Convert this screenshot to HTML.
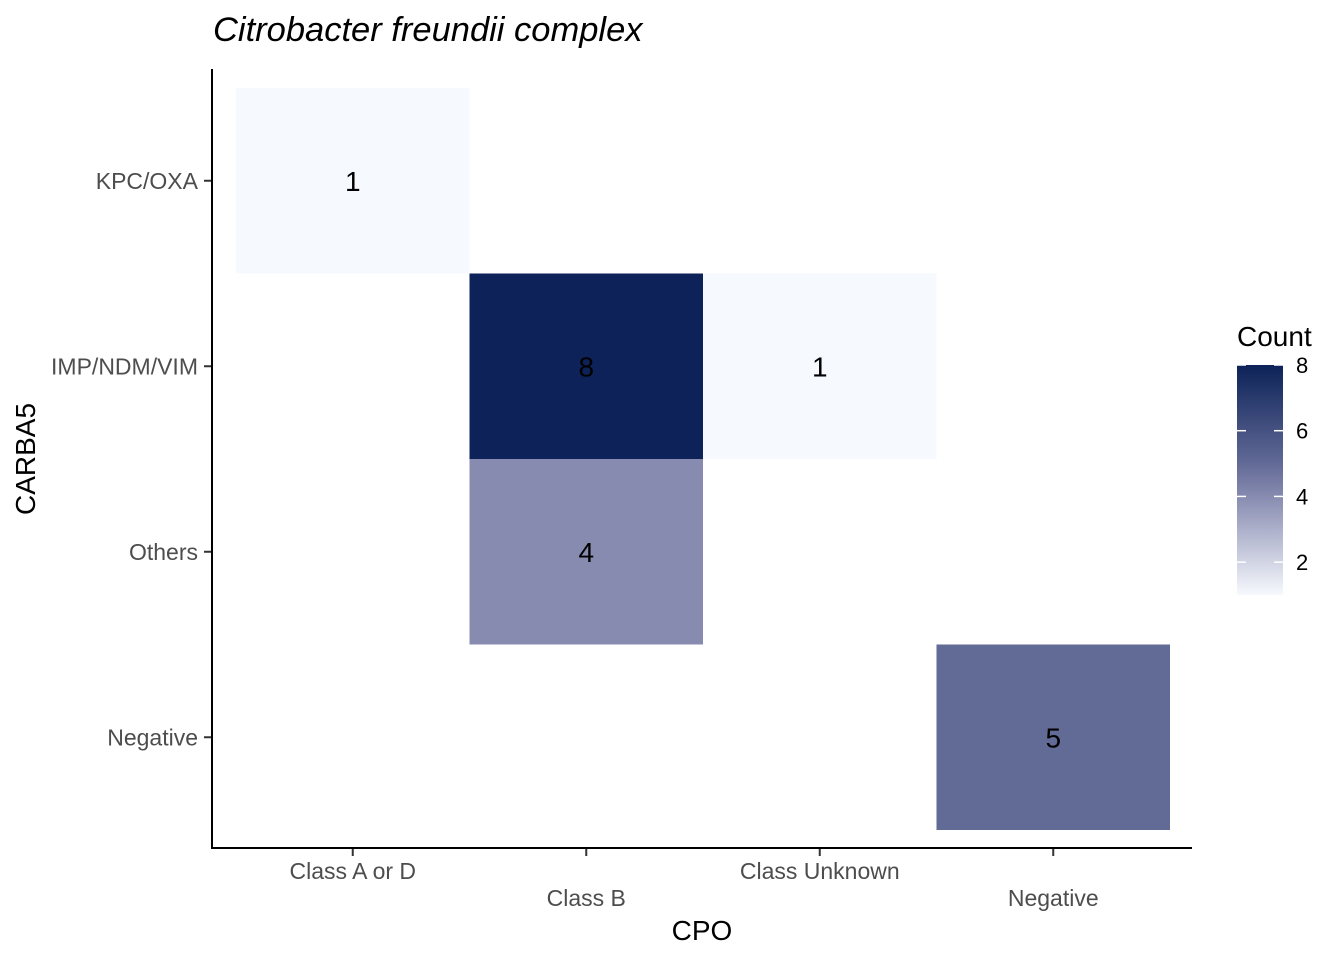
<!DOCTYPE html>
<html><head><meta charset="utf-8"><style>
body{margin:0;background:#fff;font-family:"Liberation Sans",Arial,sans-serif;}
svg text{font-family:"Liberation Sans",Arial,sans-serif;}
</style></head><body>
<svg id="chart" width="1344" height="960" xmlns="http://www.w3.org/2000/svg">
<defs><linearGradient id="grad" x1="0" y1="1" x2="0" y2="0">
<stop offset="0" stop-color="#f6f9fd"/><stop offset="0.4286" stop-color="#878bb0"/><stop offset="0.5714" stop-color="#626a96"/><stop offset="1" stop-color="#0c2258"/>
</linearGradient></defs>
<text x="213" y="41" font-size="34.5" font-style="italic" fill="#000">Citrobacter freundii complex</text>
<g id="tiles"></g>
<line x1="212" y1="69" x2="212" y2="849" stroke="#000" stroke-width="2"/>
<line x1="211" y1="848" x2="1192" y2="848" stroke="#000" stroke-width="2"/>
<g id="axes"></g>
<text x="702" y="940" font-size="28" text-anchor="middle">CPO</text>
<text transform="translate(35,459) rotate(-90)" font-size="28" text-anchor="middle">CARBA5</text>
<text x="1237" y="346" font-size="28">Count</text>
<rect x="1237" y="365" width="46" height="230" fill="url(#grad)"/>
<g id="legend"></g>
</svg>
<script>
const xCats=["Class A or D","Class B","Class Unknown","Negative"];
const yCats=["KPC/OXA","IMP/NDM/VIM","Others","Negative"];
const cellX=["Class A or D","Class B","Class Unknown","Class B","Negative"];
const cellY=["KPC/OXA","IMP/NDM/VIM","IMP/NDM/VIM","Others","Negative"];
const cellVal=[1,8,1,4,5];
const legendTicks=[2,4,6,8];
const vMin=1,vMax=8;
const NS="http://www.w3.org/2000/svg";
const x0=236,cw=233.5,y0=88,rh=185.5;
const xPos=c=>x0+xCats.indexOf(c)*cw;
const yPos=c=>y0+yCats.indexOf(c)*rh;
const stops=[[0,[246,249,253]],[0.4286,[135,139,176]],[0.5714,[98,106,150]],[1,[12,34,88]]];
function color(v){let t=(v-vMin)/(vMax-vMin);t=Math.max(0,Math.min(1,t));
for(let i=1;i<stops.length;i++){if(t<=stops[i][0]){const a=stops[i-1],b=stops[i];const f=(t-a[0])/(b[0]-a[0]);
const c=a[1].map((x,k)=>Math.round(x+(b[1][k]-x)*f));return`rgb(${c.join(',')})`;}}return"rgb(12,34,88)";}
function mk(tag,attrs,parent,txt){const e=document.createElementNS(NS,tag);for(const k in attrs)e.setAttribute(k,attrs[k]);if(txt!==undefined)e.textContent=txt;parent.appendChild(e);return e;}
const tiles=document.getElementById('tiles');
cellVal.forEach((v,i)=>{
const r=mk('rect',{x:xPos(cellX[i]),y:yPos(cellY[i]),width:cw,height:rh,fill:color(v)},tiles);


const t=mk('text',{x:xPos(cellX[i])+cw/2,y:yPos(cellY[i])+rh/2+10,'font-size':28,'text-anchor':'middle',fill:'#000'},tiles,v);


});
const axes=document.getElementById('axes');
xCats.forEach((c,i)=>{const cx=x0+i*cw+cw/2;
const l=mk('line',{x1:cx,y1:849,x2:cx,y2:856,stroke:'#333','stroke-width':2},axes);


const t=mk('text',{x:cx,y:i%2?906:879,'font-size':23,'text-anchor':'middle',fill:'#4d4d4d'},axes,c);

});
yCats.forEach((c,i)=>{const cy=y0+i*rh+rh/2;
const l=mk('line',{x1:204,y1:cy,x2:211,y2:cy,stroke:'#333','stroke-width':2},axes);


const t=mk('text',{x:198,y:cy+8,'font-size':23,'text-anchor':'end',fill:'#4d4d4d'},axes,c);

});
const lg=document.getElementById('legend');
legendTicks.forEach(v=>{const y=595-(v-vMin)/(vMax-vMin)*230;
const a=mk('line',{x1:1237,y1:y,x2:1246,y2:y,stroke:'#fff','stroke-width':1.5},lg);


const b=mk('line',{x1:1274,y1:y,x2:1283,y2:y,stroke:'#fff','stroke-width':1.5},lg);


const t=mk('text',{x:1296,y:y+8,'font-size':22,fill:'#000'},lg,v);

});
</script>
</body></html>
